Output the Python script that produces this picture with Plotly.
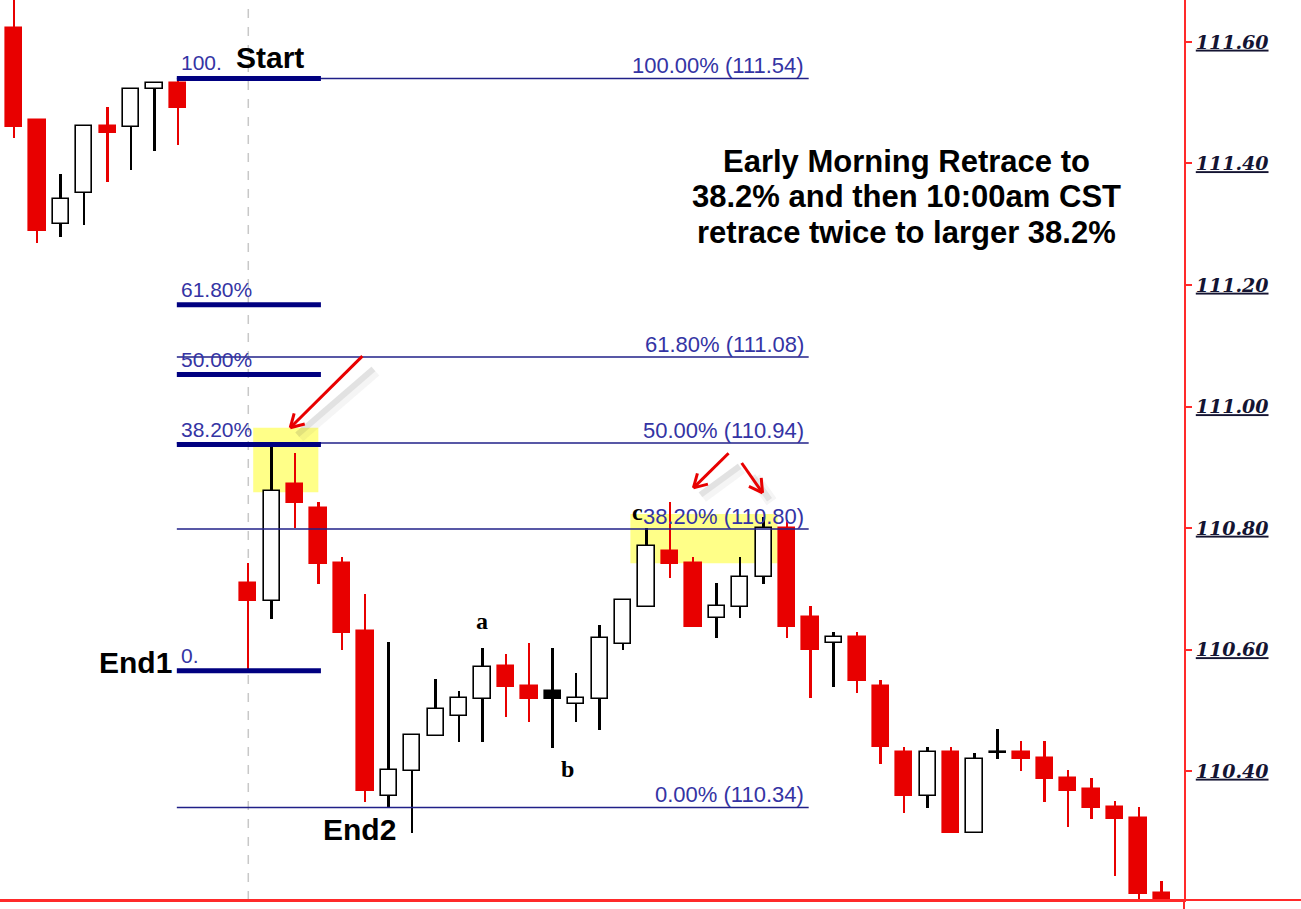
import math
import plotly.graph_objects as go

# ---------------- data ----------------
candle_x = [0, 1, 2, 3, 4, 5, 6, 7,
            10, 11, 12, 13, 14, 15, 16, 17, 18, 19, 20, 21, 22, 23, 24, 25, 26, 27, 28, 29,
            30, 31, 32, 33, 34, 35, 36, 37, 38, 39, 40, 41, 42, 43, 44, 45, 46, 47, 48, 49]
opens = [111.623, 111.472, 111.300, 111.351, 111.462, 111.460, 111.523, 111.533,
         110.709, 110.680, 110.872, 110.833, 110.742, 110.630, 110.359, 110.400, 110.458, 110.491,
         110.519, 110.573, 110.540, 110.519, 110.510, 110.519, 110.609, 110.670, 110.762, 110.742,
         110.652, 110.670, 110.719, 110.800, 110.653, 110.611, 110.621, 110.540, 110.431, 110.359,
         110.431, 110.298, 110.430, 110.431, 110.421, 110.388, 110.370, 110.341, 110.323, 110.199]
highs = [111.700, 111.472, 111.383, 111.462, 111.493, 111.523, 111.533, 111.540,
         110.742, 110.940, 110.923, 110.843, 110.752, 110.691, 110.612, 110.459, 110.551, 110.532,
         110.602, 110.593, 110.611, 110.602, 110.561, 110.640, 110.681, 110.800, 110.843, 110.752,
         110.709, 110.752, 110.818, 110.813, 110.672, 110.629, 110.629, 110.550, 110.440, 110.440,
         110.440, 110.430, 110.469, 110.449, 110.449, 110.402, 110.388, 110.351, 110.341, 110.219]
lows = [111.442, 111.269, 111.279, 111.299, 111.370, 111.389, 111.421, 111.430,
        110.565, 110.650, 110.800, 110.708, 110.599, 110.349, 110.341, 110.298, 110.458, 110.448,
        110.448, 110.489, 110.481, 110.438, 110.481, 110.467, 110.599, 110.670, 110.718, 110.637,
        110.619, 110.652, 110.708, 110.619, 110.520, 110.538, 110.528, 110.412, 110.331, 110.339,
        110.298, 110.298, 110.420, 110.400, 110.349, 110.308, 110.321, 110.227, 110.150, 110.150]
closes = [111.460, 111.289, 111.342, 111.462, 111.450, 111.523, 111.533, 111.491,
          110.680, 110.861, 110.841, 110.741, 110.627, 110.367, 110.402, 110.459, 110.502, 110.520,
          110.571, 110.538, 110.519, 110.532, 110.520, 110.619, 110.681, 110.770, 110.741, 110.637,
          110.672, 110.719, 110.800, 110.637, 110.599, 110.621, 110.548, 110.440, 110.359, 110.431,
          110.298, 110.420, 110.432, 110.420, 110.387, 110.367, 110.339, 110.321, 110.198, 110.160]
black_body_x = [23]

tick_values = [110.40, 110.60, 110.80, 111.00, 111.20, 111.40, 111.60]

fib_high = 111.54
fib_low = 110.34
fib_small_low = 110.565
fib_ratios = [1.0, 0.618, 0.5, 0.382, 0.0]
fib_small_labels = ["100.", "61.80%", "50.00%", "38.20%", "0."]
fib_start_x, fib_end_x = 6.95, 33.92
fib_small_end_x = 13.1

main_text_lines = ["Early Morning Retrace to",
                   "38.2% and then 10:00am CST",
                   "retrace twice to larger 38.2%"]

# ---------------- geometry ----------------
W, H = 1301, 909
M_L, M_R, M_T, M_B = 0, 117, 0, 9
X_RANGE = [-0.598, 49.94]
Y_RANGE = [110.1877, 111.6691]
PXX = (W - M_L - M_R) / (X_RANGE[1] - X_RANGE[0])
PXY = (H - M_T - M_B) / (Y_RANGE[1] - Y_RANGE[0])

RED = "#E80000"
NAVY = "#000080"
THIN = "#202088"
LBL = "#3434a4"

fig = go.Figure()

up = [c >= o for o, c in zip(opens, closes)]
wick_col = ["black" if u else RED for u in up]
body_fill = []
body_edge = []
for x, u in zip(candle_x, up):
    if x in black_body_x:
        body_fill.append("black"); body_edge.append("black")
    elif u:
        body_fill.append("white"); body_edge.append("black")
    else:
        body_fill.append(RED); body_edge.append(RED)

fig.add_trace(go.Bar(x=candle_x, y=[h - l for h, l in zip(highs, lows)], base=lows,
                     width=0.085, marker=dict(color=wick_col, line=dict(width=0)),
                     hoverinfo="skip", showlegend=False))
fig.add_trace(go.Bar(x=candle_x, y=[abs(c - o) for o, c in zip(opens, closes)],
                     base=[min(o, c) for o, c in zip(opens, closes)],
                     width=0.70, marker=dict(color=body_fill, line=dict(color=body_edge, width=1.6)),
                     showlegend=False))

shapes = []
# dashed session line
shapes.append(dict(type="line", xref="x", yref="paper", x0=10, x1=10, y0=0, y1=1,
                   line=dict(color="#c8c8c8", width=1.5, dash="dash"), layer="below"))
# yellow highlight boxes
shapes.append(dict(type="rect", xref="x", yref="y", x0=10.21, x1=12.99, y0=110.859, y1=110.965,
                   fillcolor="#FFFF88", line=dict(width=0), layer="below"))
shapes.append(dict(type="rect", xref="x", yref="y", x0=26.31, x1=32.59, y0=110.742, y1=110.823,
                   fillcolor="#FFFF88", line=dict(width=0), layer="below"))

annotations = []
# big fib
for r in fib_ratios:
    lvl = fib_low + r * (fib_high - fib_low)
    shapes.append(dict(type="line", xref="x", yref="y", x0=fib_start_x, x1=fib_end_x, y0=lvl, y1=lvl,
                       line=dict(color=THIN, width=1.6)))
    annotations.append(dict(x=fib_end_x - 0.13, y=lvl, xref="x", yref="y", xanchor="right", yanchor="bottom",
                            text=f"{r*100:.2f}% ({lvl:.2f})", showarrow=False, yshift=-2,
                            font=dict(family="Liberation Sans, Arial", size=22, color=LBL)))
# small fib
for r, lab in zip(fib_ratios, fib_small_labels):
    lvl = fib_small_low + r * (fib_high - fib_small_low)
    shapes.append(dict(type="line", xref="x", yref="y", x0=fib_start_x, x1=fib_small_end_x, y0=lvl, y1=lvl,
                       line=dict(color=NAVY, width=5)))
    annotations.append(dict(x=fib_start_x, y=lvl, xref="x", yref="y", xanchor="left", yanchor="bottom",
                            text=lab, showarrow=False, xshift=2, yshift=2,
                            font=dict(family="Liberation Sans, Arial", size=21, color=LBL)))

# bottom line extension to the right edge
shapes.append(dict(type="line", xref="paper", yref="paper", x0=0, x1=1.1, y0=0, y1=0,
                   line=dict(color="#ff2a2a", width=2)))
shapes.append(dict(type="line", xref="paper", yref="paper", x0=1, x1=1, y0=0, y1=-0.012,
                   line=dict(color="#ff2a2a", width=2)))


def arrow(x0, y0, x1, y1, color=RED, width=3, head_px=15, ang=30):
    dxp = (x1 - x0) * PXX
    dyp = -(y1 - y0) * PXY
    L = math.hypot(dxp, dyp)
    ux, uy = dxp / L, dyp / L
    out = []
    # soft shadow
    for w, a, off in [(12, 0.05, 9), (6, 0.10, 7)]:
        out.append(dict(type="line", xref="x", yref="y",
                        x0=x0 + (off + 4) / PXX, y0=y0 - (off + 6) / PXY,
                        x1=x1 + off / PXX, y1=y1 - off / PXY,
                        line=dict(color=f"rgba(60,60,60,{a})", width=w)))
    out.append(dict(type="line", xref="x", yref="y", x0=x0, y0=y0, x1=x1, y1=y1,
                    line=dict(color=color, width=width)))
    for s in (1, -1):
        t = math.radians(ang * s)
        bx, by = -ux, -uy
        rx = bx * math.cos(t) - by * math.sin(t)
        ry = bx * math.sin(t) + by * math.cos(t)
        out.append(dict(type="line", xref="x", yref="y", x0=x1, y0=y1,
                        x1=x1 + rx * head_px / PXX, y1=y1 - ry * head_px / PXY,
                        line=dict(color=color, width=width)))
    return out


shapes += arrow(14.87, 111.083, 11.79, 110.965)
shapes += arrow(30.5, 110.923, 29.0, 110.866)
shapes += arrow(31.06, 110.907, 31.95, 110.858)

# text labels
big = dict(family="Liberation Sans, Arial", size=30, color="black", weight="bold")
main = dict(family="Liberation Sans, Arial", size=31, color="black", weight="bold")
annotations.append(dict(x=10.94, y=111.574, text="Start", showarrow=False, font=big))
annotations.append(dict(x=5.17, y=110.579, text="End1", showarrow=False, font=big))
annotations.append(dict(x=14.74, y=110.303, text="End2", showarrow=False, font=big))
ser = dict(family="Liberation Serif, Times New Roman", size=24, color="black", weight="bold")
annotations.append(dict(x=19.99, y=110.647, text="a", showarrow=False, font=ser))
annotations.append(dict(x=23.62, y=110.403, text="b", showarrow=False, font=ser))
annotations.append(dict(x=26.61, y=110.826, text="c", showarrow=False, font=ser))
for line_txt, yv in zip(main_text_lines, [111.404, 111.345, 111.286]):
    annotations.append(dict(x=38.1, y=yv, text=line_txt, showarrow=False, font=main))

fig.update_layout(
    width=W, height=H,
    margin=dict(l=M_L, r=M_R, t=M_T, b=M_B, pad=0),
    paper_bgcolor="white", plot_bgcolor="white",
    barmode="overlay", bargap=0,
    showlegend=False,
    shapes=shapes, annotations=annotations,
    xaxis=dict(range=X_RANGE, showgrid=False, zeroline=False, showticklabels=False, ticks="",
               showline=True, linecolor="#ff2a2a", linewidth=2, fixedrange=True),
    yaxis=dict(range=Y_RANGE, side="right", showgrid=False, zeroline=False,
               tickmode="array", tickvals=tick_values, ticktext=[f"{v:.2f}" for v in tick_values],
               ticks="outside", ticklen=6, tickcolor="#ff2a2a", tickwidth=1.5,
               showline=True, linecolor="#ff2a2a", linewidth=2, mirror=False,
               tickfont=dict(family="DejaVu Serif", size=19, color="#141432", weight="bold",
                             style="italic", lineposition="under"),
               fixedrange=True),
)

fig.write_html("out.html", config={"displayModeBar": False},
               post_script="document.body.style.margin='0';document.body.style.overflow='hidden';")
